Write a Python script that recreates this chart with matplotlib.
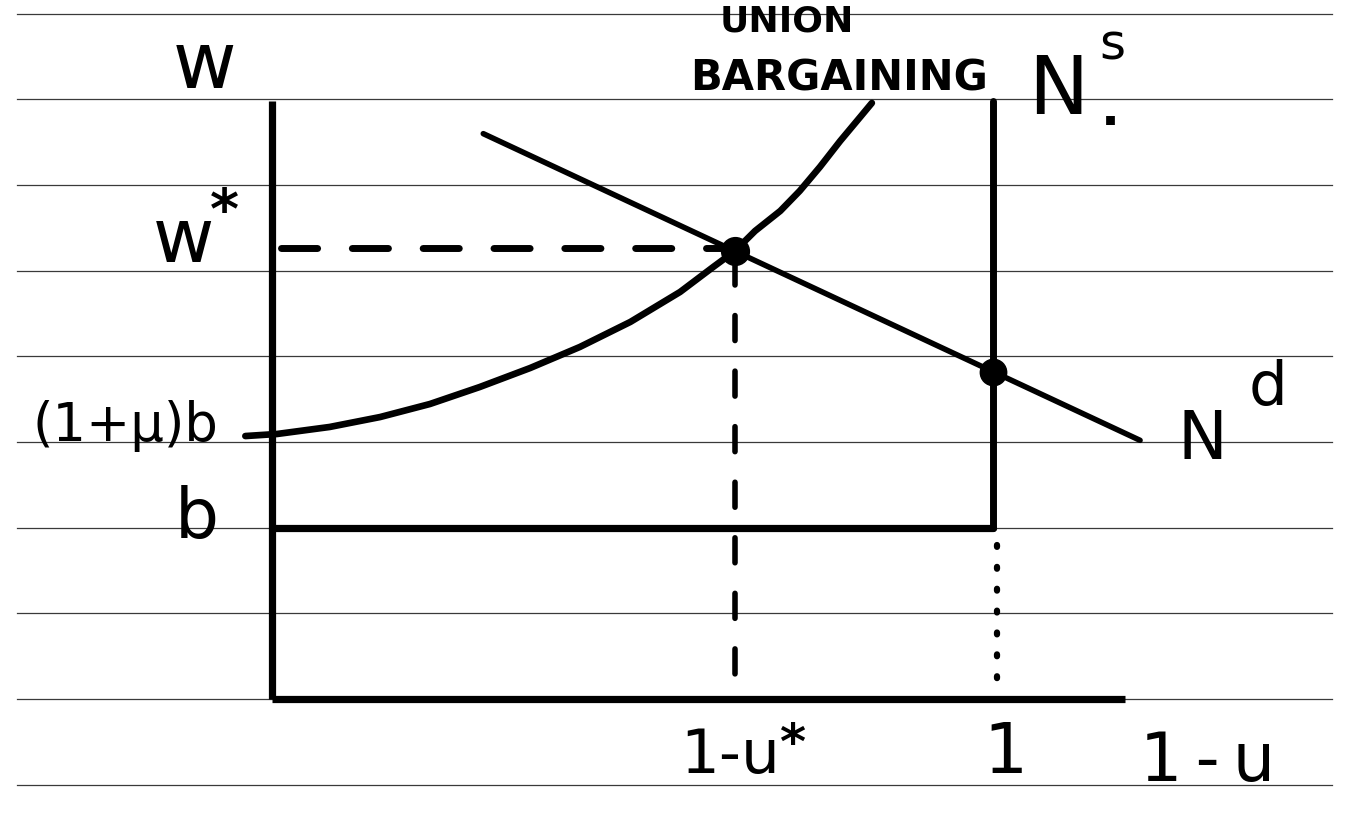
import matplotlib
matplotlib.use("Agg")
import matplotlib.pyplot as plt

# ---------------- data (model units: wage w, employment 1-u) ----------------
paper_rules = [-0.5, 0.0, 0.5, 1.0, 1.5, 2.0, 2.5, 3.0, 3.5, 4.0]   # ruled notebook lines
b = 1.0                 # unemployment benefit
markup_b = 1.535        # (1+mu) b
w_star = 2.615          # bargained wage
emp_star = 0.642        # 1 - u*
full_emp = 1.0          # labour supply N^s (1)
axis_top = 3.49
axis_right = 1.183
nd_x = [0.293, 1.204]   # labour demand N^d end points
nd_w = [3.30, 1.51]
ub_x = [-0.037, 0.007, 0.080, 0.150, 0.219, 0.288, 0.358, 0.427, 0.497, 0.566,
        0.612, 0.642, 0.670, 0.705, 0.732, 0.760, 0.788, 0.816, 0.832]
ub_w = [1.535, 1.547, 1.588, 1.646, 1.722, 1.821, 1.932, 2.055, 2.201, 2.376,
        2.522, 2.615, 2.732, 2.849, 2.966, 3.106, 3.257, 3.398, 3.479]
nd_at_full = nd_w[0] + (full_emp - nd_x[0]) * (nd_w[1] - nd_w[0]) / (nd_x[1] - nd_x[0])

# ---------------- figure ----------------
fig = plt.figure(figsize=(13.56, 8.28), dpi=100)
ax = fig.add_axes([0, 0, 1, 1])
ax.set_xlim(-0.3773, 1.5035)
ax.set_ylim(-0.747, 4.086)
ax.axis("off")
fig.patch.set_facecolor("white")

# ruled paper lines
for r in paper_rules:
    ax.plot([-0.354, 1.470], [r, r], color="#3a3a3a", lw=0.9, zorder=1)

K = "black"
# axes
ax.plot([0, 0], [0, axis_top], color=K, lw=5.2, solid_capstyle="butt", zorder=3)
ax.plot([0, axis_right], [0, 0], color=K, lw=5.2, solid_capstyle="butt", zorder=3)
# benefit line b and labour supply N^s
ax.plot([0, full_emp], [b, b], color=K, lw=5.2, solid_capstyle="round", zorder=3)
ax.plot([full_emp, full_emp], [b, axis_top], color=K, lw=5.0, solid_capstyle="round", zorder=3)
# dotted drop from 1
ax.plot([full_emp + 0.005, full_emp + 0.005], [b - 0.1, 0.07], color=K, lw=4.5,
        linestyle=(0, (0.3, 3.2)), dash_capstyle="round", zorder=3)
# labour demand
ax.plot(nd_x, nd_w, color=K, lw=4.0, solid_capstyle="round", zorder=3)
# union bargaining curve
ax.plot(ub_x, ub_w, color=K, lw=4.8, solid_capstyle="round", solid_joinstyle="round", zorder=3)
# dashed guides
ax.plot([0.012, emp_star], [w_star + 0.02, w_star + 0.02], color=K, lw=5.0,
        linestyle=(0, (5.2, 5.0)), dash_capstyle="round", zorder=3)
ax.plot([emp_star, emp_star], [w_star - 0.05, 0.06], color=K, lw=4.0,
        linestyle=(0, (4.5, 5.5)), dash_capstyle="round", zorder=3)
# equilibrium points
ax.plot([emp_star], [w_star], "o", color=K, ms=20, zorder=4)
ax.plot([full_emp], [nd_at_full], "o", color=K, ms=19, zorder=4)

# ---------------- labels ----------------
fam = ["DejaVu Sans"]
def t(x, y, s, size, **kw):
    ax.text(x, y, s, fontsize=size, family=fam, ha="center", va="center", color=K, **kw)

t(-0.093, 3.70, "w", 56)
t(-0.123, 2.674, "w", 54)
t(-0.066, 2.84, "*", 40, fontweight="bold")
t(-0.204, 1.60, "(1+μ)b", 38)
t(-0.104, 1.06, "b", 50)
t(0.714, 3.96, "UNION", 26, fontweight="bold")
t(0.786, 3.63, "BARGAINING", 30, fontweight="bold")
t(1.090, 3.55, "N", 58)
t(1.166, 3.82, "s", 36)
t(1.163, 3.44, ".", 36, fontweight="bold")
t(1.291, 1.52, "N", 48)
t(1.381, 1.82, "d", 44)
t(0.635, -0.33, "1-u", 44)
t(0.721, -0.26, "*", 36, fontweight="bold")
t(1.017, -0.31, "1", 50)
t(1.297, -0.36, "1\u2009-\u2009u", 48)

fig.savefig("out.png", dpi=100, facecolor="white")
